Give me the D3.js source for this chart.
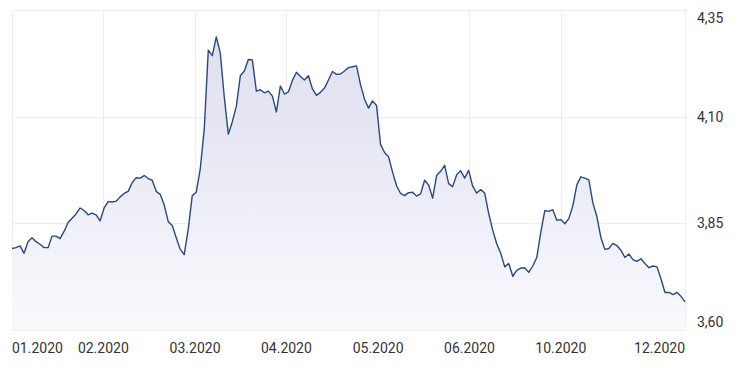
<!DOCTYPE html>
<html lang="en">
    <head>
        <meta charset="utf-8" />
        <title>Price chart 2020</title>
        <style>
            body { margin: 0; background: #fff; }
            svg text {
                font: 14px Roboto, sans-serif;
                fill: #333;
            }
        </style>
        <script type="text/javascript" src="https://cdn.jsdelivr.net/npm/d3@7/dist/d3.min.js"></script>
    </head>
    <body>

        <script type="text/javascript">
            // closing prices, one value per step along the x axis
            var prices = [
                3.791, 3.793, 3.797, 3.780, 3.807, 3.816, 3.807, 3.801, 3.793, 3.793,
                3.820, 3.820, 3.814, 3.831, 3.852, 3.862, 3.872, 3.886, 3.880, 3.870,
                3.874, 3.870, 3.856, 3.886, 3.901, 3.900, 3.902, 3.912, 3.920, 3.925,
                3.945, 3.957, 3.956, 3.962, 3.955, 3.951, 3.925, 3.918, 3.893, 3.854,
                3.845, 3.816, 3.789, 3.777, 3.837, 3.915, 3.923, 3.978, 4.072, 4.256,
                4.243, 4.287, 4.249, 4.145, 4.059, 4.088, 4.124, 4.196, 4.207, 4.234,
                4.233, 4.160, 4.163, 4.156, 4.160, 4.148, 4.111, 4.172, 4.153, 4.158,
                4.185, 4.204, 4.194, 4.186, 4.196, 4.165, 4.150, 4.157, 4.167, 4.186,
                4.206, 4.199, 4.200, 4.207, 4.215, 4.217, 4.219, 4.175, 4.141, 4.120,
                4.137, 4.126, 4.035, 4.016, 4.006, 3.970, 3.938, 3.920, 3.915, 3.922,
                3.923, 3.914, 3.919, 3.951, 3.940, 3.909, 3.962, 3.972, 3.986, 3.943,
                3.936, 3.964, 3.973, 3.956, 3.974, 3.937, 3.921, 3.929, 3.921, 3.873,
                3.834, 3.802, 3.780, 3.748, 3.756, 3.726, 3.740, 3.745, 3.746, 3.735,
                3.750, 3.770, 3.829, 3.880, 3.878, 3.882, 3.857, 3.859, 3.849, 3.861,
                3.891, 3.940, 3.959, 3.956, 3.952, 3.898, 3.866, 3.817, 3.789, 3.791,
                3.803, 3.798, 3.787, 3.770, 3.778, 3.765, 3.761, 3.767, 3.756, 3.746,
                3.750, 3.748, 3.720, 3.688, 3.688, 3.683, 3.688, 3.679, 3.666
            ];

            // month labels and the step index where each one sits
            var monthLabels = ['01.2020', '02.2020', '03.2020', '04.2020', '05.2020', '06.2020', '10.2020', '12.2020'];
            var monthIndex = [0, 22.8, 45.7, 68.5, 91.4, 114.2, 137.0, 168];

            var yTicks = [3.60, 3.85, 4.10, 4.35];

            var width = 738,
                height = 368,
                plotLeft = 12,
                plotRight = 685,
                plotTop = 10,
                plotBottom = 330;

            var x = d3.scaleLinear()
                        .domain([0, prices.length - 1])
                        .range([plotLeft, plotRight]);

            var y = d3.scaleLinear()
                        .domain([3.60, 4.35])
                        .range([plotBottom, plotTop]);

            var svg = d3.select('body')
                        .append('svg')
                        .attr('width', width)
                        .attr('height', height);

            var defs = svg.append('defs');
            var grad = defs.append('linearGradient')
                        .attr('id', 'areaFill')
                        .attr('gradientUnits', 'userSpaceOnUse')
                        .attr('x1', 0).attr('y1', plotTop)
                        .attr('x2', 0).attr('y2', plotBottom);
            grad.append('stop').attr('offset', '0%').attr('stop-color', '#dcdcee');
            grad.append('stop').attr('offset', '100%').attr('stop-color', '#f9f9fd');

            // horizontal grid
            svg.append('g')
                .selectAll('line')
                .data(yTicks)
                .enter()
                .append('line')
                .attr('x1', plotLeft)
                .attr('x2', plotRight)
                .attr('y1', function(d) { return Math.round(y(d)) + 0.5; })
                .attr('y2', function(d) { return Math.round(y(d)) + 0.5; })
                .attr('stroke', '#ededed')
                .attr('stroke-width', 1);

            // vertical grid (including the frame edges)
            svg.append('g')
                .selectAll('line')
                .data(monthIndex)
                .enter()
                .append('line')
                .attr('x1', function(d) { return Math.round(x(d)) + 0.5; })
                .attr('x2', function(d) { return Math.round(x(d)) + 0.5; })
                .attr('y1', plotTop)
                .attr('y2', plotBottom)
                .attr('stroke', '#ededed')
                .attr('stroke-width', 1);

            var area = d3.area()
                        .x(function(d, i) { return x(i); })
                        .y0(plotBottom)
                        .y1(function(d) { return y(d); });

            var line = d3.line()
                        .x(function(d, i) { return x(i); })
                        .y(function(d) { return y(d); });

            svg.append('path')
                .datum(prices)
                .attr('d', area)
                .attr('fill', 'url(#areaFill)');

            svg.append('path')
                .datum(prices)
                .attr('d', line)
                .attr('fill', 'none')
                .attr('stroke', '#264a80')
                .attr('stroke-width', 1.4)
                .attr('stroke-linejoin', 'round');

            // y labels on the right, kept inside the plot height
            svg.append('g')
                .selectAll('text')
                .data(yTicks)
                .enter()
                .append('text')
                .attr('x', 697)
                .attr('y', function(d) {
                    return Math.min(Math.max(y(d), plotTop + 8), plotBottom - 8);
                })
                .attr('dy', '.35em')
                .text(function(d) { return d.toFixed(2).replace('.', ','); });

            // x labels, first left aligned, last right aligned
            svg.append('g')
                .selectAll('text')
                .data(monthLabels)
                .enter()
                .append('text')
                .attr('x', function(d, i) { return x(monthIndex[i]); })
                .attr('y', 353)
                .attr('text-anchor', function(d, i) {
                    if (i === 0) return 'start';
                    if (i === monthLabels.length - 1) return 'end';
                    return 'middle';
                })
                .text(function(d) { return d; });
        </script>
    </body>
</html>
